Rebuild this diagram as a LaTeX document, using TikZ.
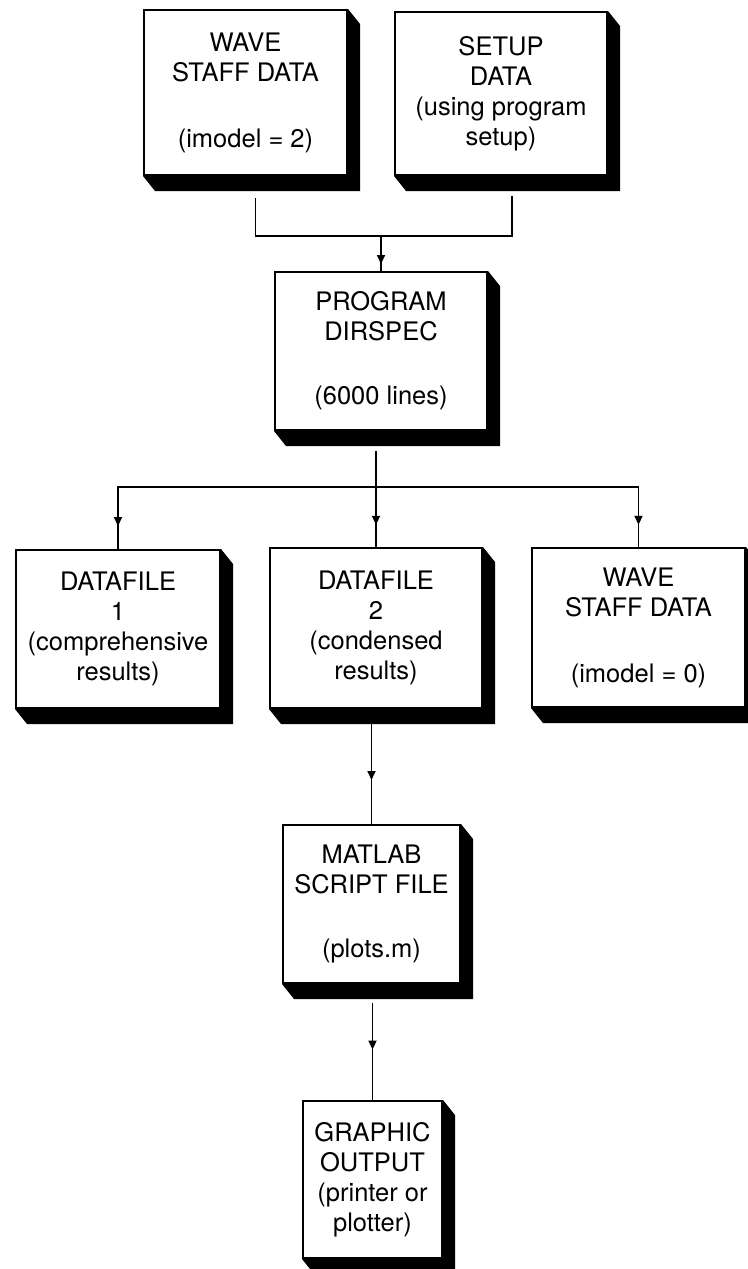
\documentclass[tikz,border=0pt]{standalone}
\usepackage{fontspec}
\setmainfont{TeX Gyre Heros}
\usetikzlibrary{calc,arrows.meta,decorations.markings}

\begin{document}
\begin{tikzpicture}[x=1pt, y=1pt,
    flowbox/.style={draw, line width=2pt, fill=white, align=center, inner sep=0pt,
        font=\fontsize{25.5}{30}\selectfont},
    link/.style={line width=1.7pt},
    midarrow/.style={link, decoration={markings,
        mark=at position #1 with {\arrow{Triangle[length=9pt,width=8pt]}}},
        postaction={decorate}},
    midarrow/.default=0.55]
    \useasboundingbox (0,0) rectangle (747,-1269);

    % inputs
    \node[flowbox, minimum width=203pt, minimum height=165pt] (wavein) at (245.5,-92.5)
        {WAVE\\STAFF DATA\\[36pt](imodel = 2)};
    \node[flowbox, minimum width=212pt, minimum height=163pt] (setup) at (501,-93.5)
        {SETUP\\DATA\\(using program\\setup)};

    % program
    \node[flowbox, minimum width=212pt, minimum height=158pt] (dirspec) at (381,-351)
        {PROGRAM\\DIRSPEC\\[34pt](6000 lines)};

    % outputs
    \node[flowbox, minimum width=204pt, minimum height=158pt] (file1) at (118,-629)
        {DATAFILE\\1\\(comprehensive\\results)};
    \node[flowbox, minimum width=212pt, minimum height=160pt] (file2) at (376,-628)
        {DATAFILE\\2\\(condensed\\results)};
    \node[flowbox, minimum width=213pt, minimum height=159pt] (waveout) at (638.5,-627.5)
        {WAVE\\STAFF DATA\\[36pt](imodel = 0)};

    \node[flowbox, minimum width=177pt, minimum height=158pt] (matlab) at (371.5,-904)
        {MATLAB\\SCRIPT FILE\\[34pt](plots.m)};
    \node[flowbox, minimum width=139pt, minimum height=157pt] (graphic) at (372.5,-1179.5)
        {GRAPHIC\\OUTPUT\\(printer or\\plotter)};

    % block shadows
    \foreach \n in {wavein,setup,dirspec,file1,file2,waveout,matlab,graphic}
        \fill (\n.north east) -- ++(12,-15) -- ($(\n.south east)+(12,-15)$)
            -- ($(\n.south west)+(12,-15)$) -- (\n.south west) -- (\n.south east) -- cycle;

    % merge into program
    \coordinate (join) at ($(dirspec.north)+(0,35)$);
    \draw[link] ($(wavein.south)+(10,-22)$) |- (join) -| ($(setup.south)+(11,-20)$);
    \draw[midarrow=0.8] (join) -- (dirspec.north);

    % split to data files
    \coordinate (split) at ($(file2.north)+(0,60)$);
    \draw[link] ($(dirspec.south -| split)+(0,-20)$) -- (split);
    \draw[link] (file1.north) |- (split) -| (waveout.north);
    \foreach \n in {file1,file2,waveout}
        \draw[midarrow=0.63] (\n.north |- split) -- (\n.north);

    \draw[midarrow=0.56] ($(file2.south -| matlab.north)+(0,-15)$) -- (matlab.north);
    \draw[midarrow=0.48] ($(matlab.south -| graphic.north)+(0,-19)$) -- (graphic.north);
\end{tikzpicture}
\end{document}
